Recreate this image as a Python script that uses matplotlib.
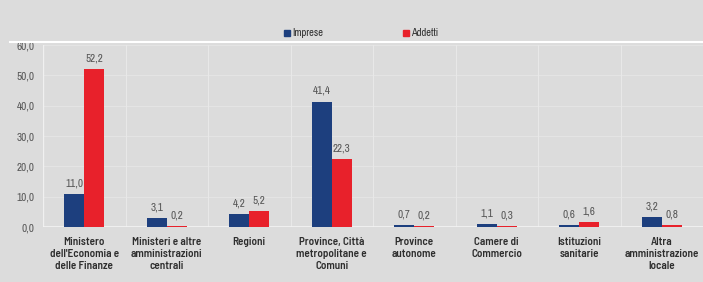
import matplotlib
matplotlib.use('Agg')
import matplotlib.pyplot as plt
from matplotlib.lines import Line2D
from matplotlib.patches import Rectangle
import numpy as np

plt.rcParams['font.family'] = ['Archivo Narrow', 'DejaVu Sans']

categories = [
    "Ministero\ndell'Economia e\ndelle Finanze",
    "Ministeri e altre\namministrazioni\ncentrali",
    "Regioni",
    "Province, Città\nmetropolitane e\nComuni",
    "Province\nautonome",
    "Camere di\nCommercio",
    "Istituzioni\nsanitarie",
    "Altra\namministrazione\nlocale",
]
imprese = [11.0, 3.1, 4.2, 41.4, 0.7, 1.1, 0.6, 3.2]
addetti = [52.2, 0.2, 5.2, 22.3, 0.2, 0.3, 1.6, 0.8]
yticks = [0, 10, 20, 30, 40, 50, 60]

BLUE = '#1d3f7e'
RED = '#e8212b'
BG = '#dcdcdc'
TXT = '#2e2e2e'

fig = plt.figure(figsize=(7.03, 2.82), dpi=100, facecolor=BG)
ax = fig.add_axes([0.0612, 0.195, 0.9388, 0.645], facecolor=BG)

x = np.arange(len(categories))
w = 0.24
ax.bar(x - w / 2, imprese, w, color=BLUE, zorder=3)
ax.bar(x + w / 2, addetti, w, color=RED, zorder=3)

fmt = lambda v: f"{v:.1f}".replace('.', ',')
for xi, v in zip(x - w / 2, imprese):
    ax.annotate(fmt(v), (xi, v), xytext=(0, 4), textcoords='offset points',
                ha='center', va='bottom', fontsize=8, color='#555555')
for xi, v in zip(x + w / 2, addetti):
    ax.annotate(fmt(v), (xi, v), xytext=(0, 4), textcoords='offset points',
                ha='center', va='bottom', fontsize=8, color='#555555')

ax.set_xlim(-0.5, len(categories) - 0.5)
ax.set_ylim(0, 60)
ax.set_yticks(yticks)
ax.set_yticklabels([fmt(v) for v in yticks], fontsize=8, color='#555555')
ax.set_xticks(x)
ax.set_xticklabels(categories, fontsize=8, color=TXT, linespacing=1.25,
                   family=['Barlow Semi Condensed', 'DejaVu Sans'],
                   fontweight=600)
ax.tick_params(length=0, pad=7)
ax.tick_params(axis='y', pad=6)

for sp in ax.spines.values():
    sp.set_visible(False)

# grid
for yv in yticks[1:]:
    ax.axhline(yv, color='#e4e4e4', lw=0.8, zorder=1)
for xv in np.arange(0.5, len(categories) - 0.5, 1):
    ax.axvline(xv, color='#e8e8e8', lw=0.8, zorder=1)
ax.axvline(-0.5, color='#f0f0f0', lw=1.0, zorder=1)
ax.axhline(0, color='#f4f4f4', lw=1.2, zorder=2)

# white line above the plot
fig.add_artist(Line2D([0.014, 1.0], [1 - 42 / 282, 1 - 42 / 282],
                      color='white', lw=1.5, transform=fig.transFigure))

# legend
ly = 1 - 33 / 282
for lx, lab, col in [(287, 'Imprese', BLUE), (406, 'Addetti', RED)]:
    fig.add_artist(Rectangle((lx / 703 - 3 / 703, ly - 3 / 282), 6 / 703, 6 / 282,
                             color=col, transform=fig.transFigure))
    fig.text(lx / 703 + 5 / 703, ly, lab, fontsize=7.5, color=TXT,
             va='center', ha='left')

fig.savefig('out.png', dpi=100, facecolor=BG)
